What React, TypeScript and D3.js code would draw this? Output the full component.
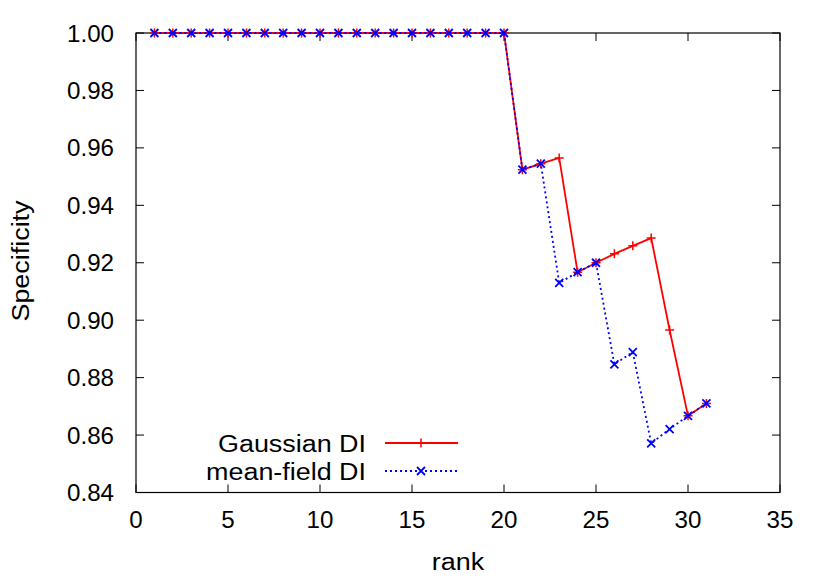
import React from "react";
import * as d3 from "d3";

const ranks = d3.range(1, 32);
const gaussian = [
  1, 1, 1, 1, 1, 1, 1, 1, 1, 1, 1, 1, 1, 1, 1, 1, 1, 1, 1, 1,
  0.9524, 0.9545, 0.9565, 0.9167, 0.92, 0.9231, 0.9259, 0.9286, 0.8966, 0.8667, 0.871,
];
const meanField = [
  1, 1, 1, 1, 1, 1, 1, 1, 1, 1, 1, 1, 1, 1, 1, 1, 1, 1, 1, 1,
  0.9524, 0.9545, 0.913, 0.9167, 0.92, 0.8846, 0.8889, 0.8571, 0.8621, 0.8667, 0.871,
];
const xTicks = [0, 5, 10, 15, 20, 25, 30, 35];
const yTicks = [0.84, 0.86, 0.88, 0.9, 0.92, 0.94, 0.96, 0.98, 1.0];
const seriesNames = ["Gaussian DI", "mean-field DI"];

export default function App() {
  const W = 830, H = 581;
  const L = 136, R = 780, T = 33, B = 492.5;
  const x = d3.scaleLinear().domain([0, 35]).range([L, R]);
  const y = d3.scaleLinear().domain([0.84, 1.0]).range([B, T]);
  const line = d3.line<number>().x((_, i) => x(ranks[i])).y((d) => y(d));
  const font = "'Liberation Sans', Arial, sans-serif";
  const fs = 23;
  const sxNum = 1.05;
  const sxWord = 1.17;
  const tk = 8;
  const plus = (cx: number, cy: number, k: string) => (
    <path key={k} d={`M${cx - 4.5},${cy}H${cx + 4.5}M${cx},${cy - 4.5}V${cy + 4.5}`} stroke="#ff0000" strokeWidth={1.5} />
  );
  const cross = (cx: number, cy: number, k: string) => (
    <path key={k} d={`M${cx - 4},${cy - 4}L${cx + 4},${cy + 4}M${cx - 4},${cy + 4}L${cx + 4},${cy - 4}`} stroke="#0000ff" strokeWidth={1.8} />
  );
  const txt = (tx: number, ty: number, s: string, anchor: string, sx: number, rot = 0) => (
    <text
      transform={`translate(${tx},${ty}) rotate(${rot}) scale(${sx},1)`}
      fontSize={fs}
      textAnchor={anchor}
    >
      {s}
    </text>
  );
  return (
    <svg width={W} height={H} style={{ position: "absolute", left: 0, top: 0 }} fontFamily={font}>
      <rect width={W} height={H} fill="white" />
      {xTicks.map((t) => (
        <g key={"x" + t}>
          <line x1={x(t)} x2={x(t)} y1={B} y2={B - tk} stroke="black" />
          <line x1={x(t)} x2={x(t)} y1={T} y2={T + tk} stroke="black" />
          {txt(x(t), 528, String(t), "middle", sxNum)}
        </g>
      ))}
      {yTicks.map((t) => (
        <g key={"y" + t}>
          <line x1={L} x2={L + tk} y1={y(t)} y2={y(t)} stroke="black" />
          <line x1={R} x2={R - tk} y1={y(t)} y2={y(t)} stroke="black" />
          {txt(114, y(t) + 8.5, t.toFixed(2), "end", sxNum)}
        </g>
      ))}
      <rect x={L} y={T} width={R - L} height={B - T} fill="none" stroke="black" strokeWidth={1.2} />
      {txt(458, 570, "rank", "middle", sxWord)}
      {txt(29, 261, "Specificity", "middle", sxWord, -90)}

      <path d={line(gaussian) || ""} fill="none" stroke="#ff0000" strokeWidth={1.8} />
      {gaussian.map((d, i) => plus(x(ranks[i]), y(d), "g" + i))}
      <path d={line(meanField) || ""} fill="none" stroke="#0000ff" strokeWidth={1.8} strokeDasharray="2,3" />
      {meanField.map((d, i) => cross(x(ranks[i]), y(d), "m" + i))}

      {txt(366, 452, seriesNames[0], "end", sxWord)}
      <line x1={385} x2={458} y1={443} y2={443} stroke="#ff0000" strokeWidth={1.8} />
      {plus(421, 443, "lg")}
      {txt(366, 480, seriesNames[1], "end", sxWord)}
      <line x1={385} x2={458} y1={471} y2={471} stroke="#0000ff" strokeWidth={1.8} strokeDasharray="2,3" />
      {cross(421, 471, "lm")}
    </svg>
  );
}
